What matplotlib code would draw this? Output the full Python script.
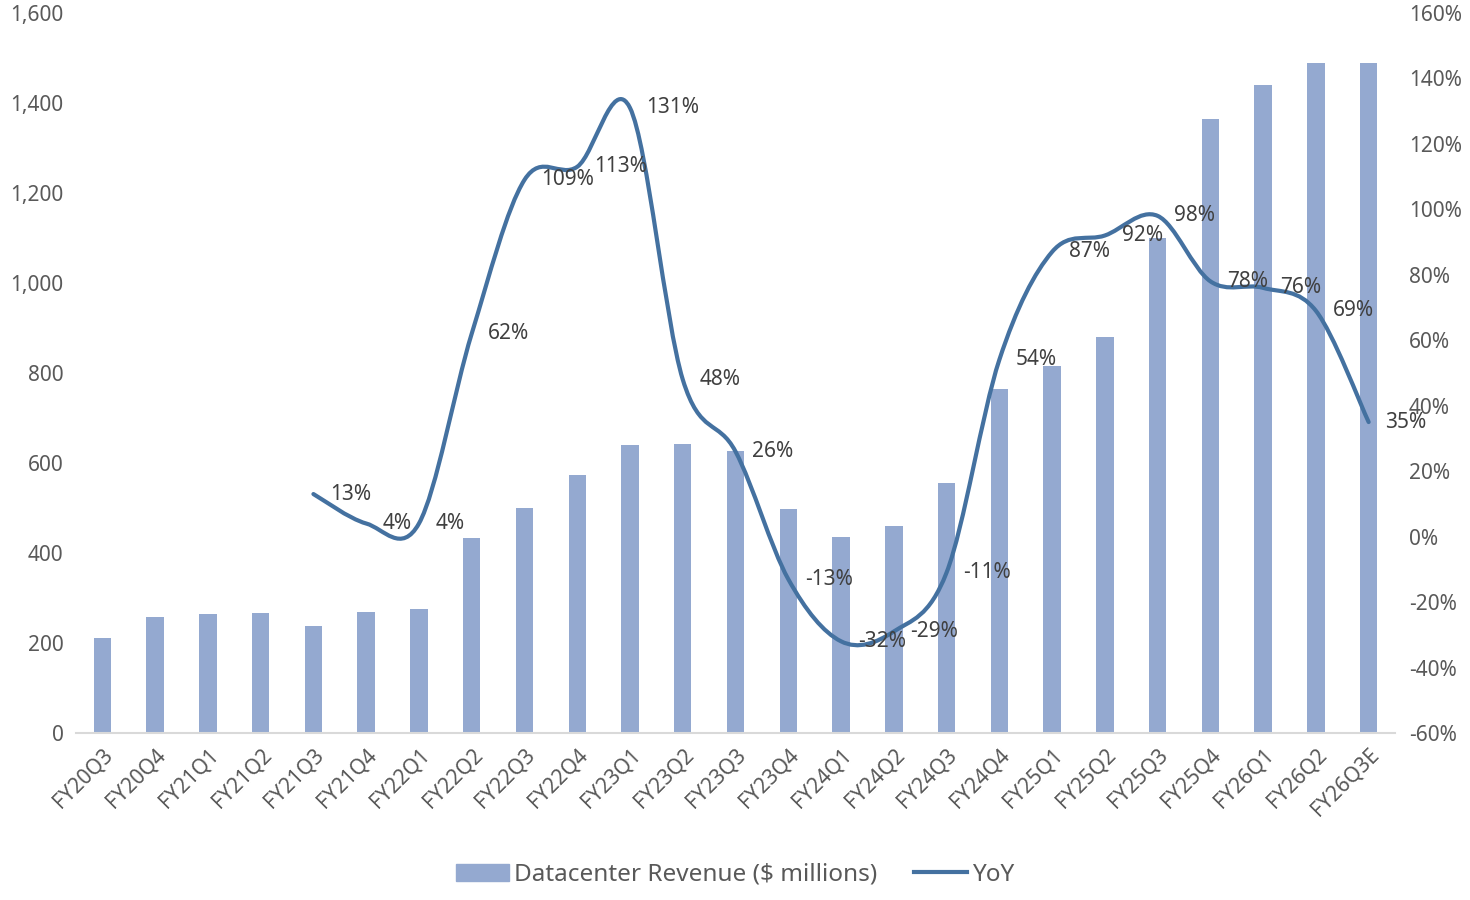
import matplotlib
matplotlib.use("Agg")
import matplotlib.pyplot as plt
import numpy as np
from matplotlib.path import Path
from matplotlib.patches import PathPatch, Patch
from matplotlib.lines import Line2D
from matplotlib.ticker import FuncFormatter

plt.rcParams['font.family'] = ['Noto Sans', 'DejaVu Sans']

quarters = ['FY20Q3', 'FY20Q4', 'FY21Q1', 'FY21Q2', 'FY21Q3', 'FY21Q4', 'FY22Q1',
            'FY22Q2', 'FY22Q3', 'FY22Q4', 'FY23Q1', 'FY23Q2', 'FY23Q3', 'FY23Q4',
            'FY24Q1', 'FY24Q2', 'FY24Q3', 'FY24Q4', 'FY25Q1', 'FY25Q2', 'FY25Q3',
            'FY25Q4', 'FY26Q1', 'FY26Q2', 'FY26Q3E']
revenue = [211, 258, 264, 267, 238, 269, 276, 433, 500, 573, 640, 642, 627, 498,
           436, 460, 556, 764, 816, 880, 1100, 1364, 1440, 1489, 1489]
# YoY starts at FY21Q3
yoy_start = 4
yoy = [13, 4, 4, 62, 109, 113, 131, 48, 26, -13, -32, -29, -11, 54, 87, 92, 98,
       78, 76, 69, 35]

bar_color = '#94A9D0'
line_color = '#4471A0'
tick_color = '#595959'

fig = plt.figure(figsize=(14.7, 9), dpi=100)
ax = fig.add_axes([0.0517, 0.1856, 0.8973, 0.80])
x = np.arange(len(quarters))
ax.bar(x, revenue, width=0.33, color=bar_color, zorder=2)
ax.set_xlim(-0.5, len(quarters) - 0.5)
ax.set_ylim(0, 1600)
ax.set_yticks(range(0, 1601, 200))
ax.yaxis.set_major_formatter(FuncFormatter(lambda v, p: f'{int(v):,}'))
ax.set_xticks(x)
ax.set_xticklabels(quarters, rotation=45, ha='right', rotation_mode='anchor')
for s in ['top', 'right', 'left']:
    ax.spines[s].set_visible(False)
ax.spines['bottom'].set_color('#D9D9D9')
ax.spines['bottom'].set_linewidth(1.5)
ax.tick_params(axis='both', length=0, labelsize=15, colors=tick_color, pad=9)
ax.tick_params(axis='x', pad=8)

ax2 = ax.twinx()
ax2.set_ylim(-60, 160)
ax2.set_yticks(range(-60, 161, 20))
ax2.yaxis.set_major_formatter(FuncFormatter(lambda v, p: f'{int(v)}%'))
for s in ax2.spines.values():
    s.set_visible(False)
ax2.tick_params(axis='y', length=0, labelsize=15, colors=tick_color, pad=10)

# smoothed line (Excel-like Catmull-Rom bezier)
px = np.arange(yoy_start, yoy_start + len(yoy)).astype(float)
py = np.array(yoy, dtype=float)
pts = np.column_stack([px, py])
verts = [pts[0]]
codes = [Path.MOVETO]
n = len(pts)
for i in range(n - 1):
    p0 = pts[max(i - 1, 0)]
    p1 = pts[i]
    p2 = pts[i + 1]
    p3 = pts[min(i + 2, n - 1)]
    c1 = p1 + (p2 - p0) / 6.0
    c2 = p2 - (p3 - p1) / 6.0
    verts += [c1, c2, p2]
    codes += [Path.CURVE4] * 3
ax2.add_patch(PathPatch(Path(verts, codes), fill=False, edgecolor=line_color,
                        lw=3, capstyle='round', joinstyle='round', zorder=3))

for xi, v in zip(px, yoy):
    ax2.annotate(f'{v}%', (xi, v), xytext=(12, 0), textcoords='offset points',
                 ha='left', va='center', fontsize=15, color='#404040', zorder=4)

handles = [Patch(color=bar_color), Line2D([], [], color=line_color, lw=3)]
fig.legend(handles, ['Datacenter Revenue ($ millions)', 'YoY'], loc='center',
           bbox_to_anchor=(0.5, 0.028), ncol=2, frameon=False, fontsize=17.5,
           labelcolor=tick_color, handlelength=2.2, handletextpad=0.2,
           columnspacing=1.5)

fig.savefig('out.png', dpi=100)
